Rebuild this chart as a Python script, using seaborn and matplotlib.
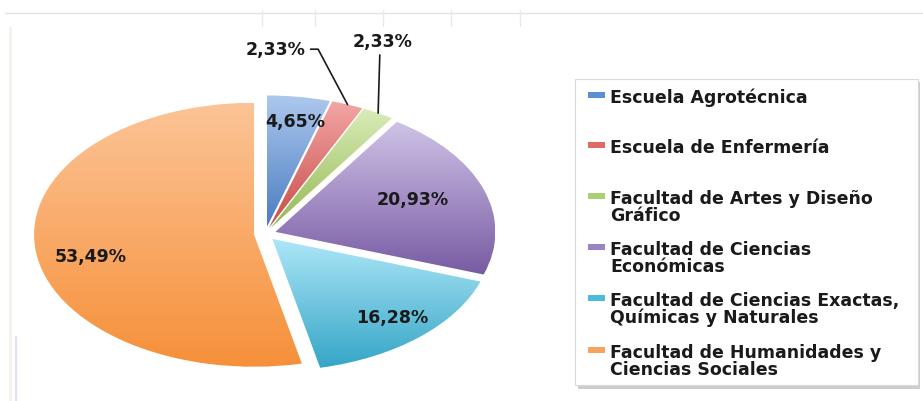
import numpy as np
import matplotlib
matplotlib.use("Agg")
import matplotlib.pyplot as plt
import seaborn as sns
from matplotlib.patches import Rectangle

# data
categories = [
    "Escuela Agrotécnica",
    "Escuela de Enfermería",
    "Facultad de Artes y Diseño\nGráfico",
    "Facultad de Ciencias\nEconómicas",
    "Facultad de Ciencias Exactas,\nQuímicas y Naturales",
    "Facultad de Humanidades y\nCiencias Sociales",
]
shares = [4.65, 2.33, 2.33, 20.93, 16.28, 53.49]
pct_labels = ["4,65%", "2,33%", "2,33%", "20,93%", "16,28%", "53,49%"]

# slice gradients (top -> bottom) and legend swatches
top_colors = ["#adc8ee", "#f2a6a4", "#d9ecb8", "#cfc2e6", "#ade6f8", "#fcc496"]
bottom_colors = ["#4a7dc0", "#c84c49", "#94b853", "#775ba3", "#35a6c6", "#f6903a"]
legend_colors = ["#5a8fd2", "#e06a68", "#a9d071", "#9b82c4", "#4cbadb", "#f9a25c"]

sns.set_theme(style="white")
plt.rcParams["font.family"] = ["DejaVu Sans"]

W, H = 923, 402
fig = plt.figure(figsize=(W / 100, H / 100), dpi=100)
fig.patch.set_facecolor("white")

# pie placed so that radius 1 maps to an ellipse of 220 x 132 px
cx, cy, rx, ry = 265, 235, 220, 132
xlo, xhi, ylo, yhi = -1.2, 1.2, -1.2, 1.7
ax = fig.add_axes([(cx + xlo * rx) / W, (H - cy + ylo * ry) / H,
                   (xhi - xlo) * rx / W, (yhi - ylo) * ry / H])

wedges, _ = ax.pie(shares, startangle=90, counterclock=False,
                   explode=[0.05] * len(shares), radius=1,
                   wedgeprops=dict(linewidth=0))

for w, c_top, c_bot in zip(wedges, top_colors, bottom_colors):
    x0, y0, x1, y1 = w.get_path().get_extents().extents
    grad = np.array(sns.blend_palette([c_top, c_bot], 128))[:, :3].reshape(128, 1, 3)
    im = ax.imshow(grad, extent=[x0, x1, y0, y1], origin="upper",
                   aspect="auto", interpolation="bilinear", zorder=1)
    im.set_clip_path(w)
    w.set_facecolor("none")

ax.set_aspect("auto")
ax.set_xlim(xlo, xhi)
ax.set_ylim(ylo, yhi)
ax.axis("off")

txt_kw = dict(fontsize=12.5, fontweight="bold", color="#1a1a1a")

# labels inside the larger slices: (radius from slice tip, angle shift in deg)
inside = {0: (0.82, -0.7), 3: (0.674, 2.9), 4: (0.804, 0.8), 5: (0.76, 6)}
for i, (r, shift) in inside.items():
    w = wedges[i]
    mid = np.deg2rad((w.theta1 + w.theta2) / 2 + shift)
    ax.text(w.center[0] + r * np.cos(mid), w.center[1] + r * np.sin(mid),
            pct_labels[i], ha="center", va="center", zorder=5, **txt_kw)

# the two small slices get leader lines
def edge_point(w):
    mid = np.deg2rad((w.theta1 + w.theta2) / 2)
    return (w.center[0] + np.cos(mid), w.center[1] + np.sin(mid))

ax.annotate(pct_labels[1], xy=edge_point(wedges[1]), xytext=(0.05, 1.40),
            ha="center", va="center", zorder=5,
            arrowprops=dict(arrowstyle="-", color="#1a1a1a", lw=1.2,
                            relpos=(1, 0.5), shrinkA=1, shrinkB=0,
                            connectionstyle="angle,angleA=0,angleB=-62,rad=0"),
            **txt_kw)
ax.annotate(pct_labels[2], xy=edge_point(wedges[2]), xytext=(0.536, 1.46),
            ha="center", va="center", zorder=5,
            arrowprops=dict(arrowstyle="-", color="#1a1a1a", lw=1.2,
                            relpos=(0.45, 0), shrinkA=1, shrinkB=0),
            **txt_kw)

# overlay in pixel units for the legend and sheet remnants
ov = fig.add_axes([0, 0, 1, 1], zorder=-1)
ov.set_xlim(0, W)
ov.set_ylim(H, 0)
ov.axis("off")
ov.plot([5, W], [14, 14], color="#e2e2e2", lw=1)
for x in [262, 315, 383, 451, 520]:
    ov.plot([x, x], [11, 27], color="#e9e9e9", lw=1)
ov.plot([10, 10], [28, H], color="#f3f3ec", lw=2)
ov.plot([16, 16], [338, H], color="#ecdcf6", lw=1.5)

lg = fig.add_axes([0, 0, 1, 1], zorder=3)
lg.set_xlim(0, W)
lg.set_ylim(H, 0)
lg.axis("off")
lg.add_patch(Rectangle((578, 83), 342, 307, facecolor="#b8b8b8", edgecolor="none", alpha=0.7))
lg.add_patch(Rectangle((575, 80), 343, 306, facecolor="white", edgecolor="#d9d9d9", lw=0.8))

baselines = [103, 153, 204, 255, 306, 358]
for lab, col, yb in zip(categories, legend_colors, baselines):
    lg.add_patch(Rectangle((588, yb - 10), 17, 6, facecolor=col, edgecolor="none"))
    for k, line in enumerate(lab.split("\n")):
        lg.text(610, yb + 17 * k, line, ha="left", va="baseline", **txt_kw)

fig.savefig("out.png", dpi=100)
